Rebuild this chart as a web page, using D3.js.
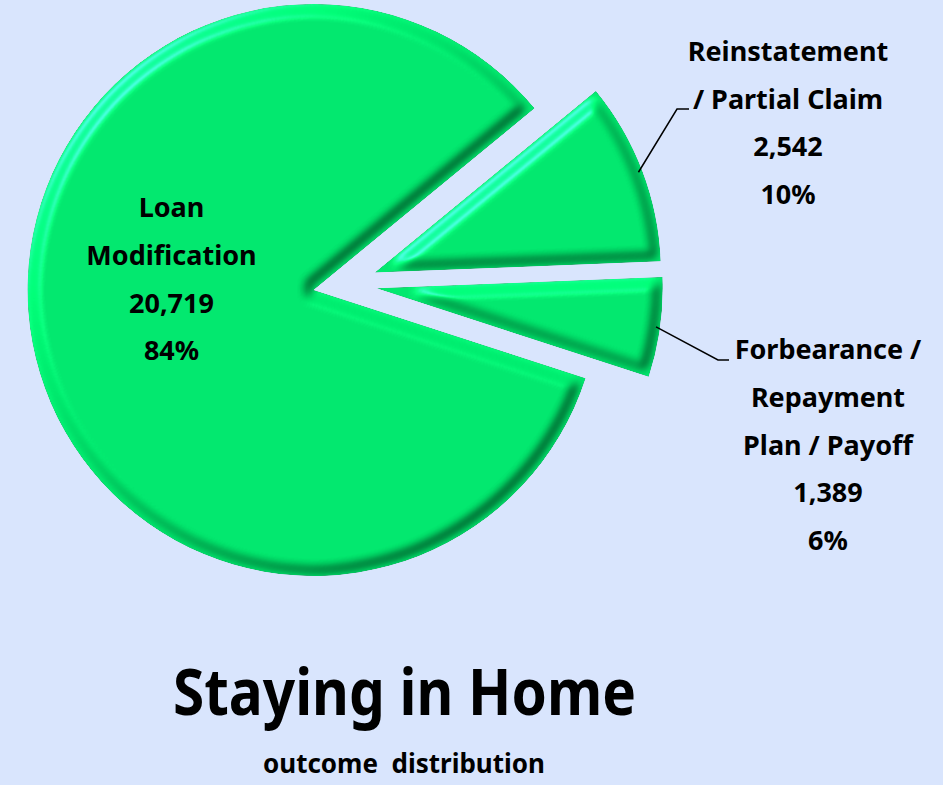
<!DOCTYPE html>
<html>
<head>
<meta charset="utf-8">
<script src="https://cdn.jsdelivr.net/npm/d3@7"></script>
<style>
    body { margin:0; background:#d9e5fd; }
    svg { display:block; }
    text { font-family:"Noto Sans", "Open Sans", sans-serif; font-weight:bold; fill:#000; }
</style>
</head>
<body>
<div id="chart"></div>
<script>

//******************************************************************************
//**  Data
//******************************************************************************
var categories = ["Loan Modification", "Reinstatement / Partial Claim", "Forbearance / Repayment Plan / Payoff"];
var counts = [20719, 2542, 1389];
var percents = ["84%", "10%", "6%"];
var labelLines = [
    ["Loan", "Modification"],
    ["Reinstatement", "/ Partial Claim"],
    ["Forbearance /", "Repayment", "Plan / Payoff"]
];
var title = "Staying in Home";
var subtitle = "outcome  distribution";


//******************************************************************************
//**  Chart
//******************************************************************************
var width = 943, height = 785;
var cx = 345, cy = 284, radius = 286, explode = 32;
var firstSliceAngle = 108; //degrees, like excel

var svg = d3.select("#chart").append("svg")
    .attr("width", width)
    .attr("height", height);

svg.append("rect")
    .attr("width", width)
    .attr("height", height)
    .attr("fill", "#d9e5fd");


//**************************************************************************
//** bevel filter
//**************************************************************************
var defs = svg.append("defs");
var filter = defs.append("filter")
    .attr("id", "bevel")
    .attr("color-interpolation-filters", "sRGB")
    .attr("x", "-5%").attr("y", "-5%")
    .attr("width", "110%").attr("height", "110%");

filter.append("feMorphology")
    .attr("in", "SourceAlpha")
    .attr("operator", "erode")
    .attr("radius", 6)
    .attr("result", "eroded");

filter.append("feGaussianBlur")
    .attr("in", "eroded")
    .attr("stdDeviation", 4.5)
    .attr("result", "blur");

filter.append("feDiffuseLighting")
    .attr("in", "blur")
    .attr("surfaceScale", 4)
    .attr("diffuseConstant", 1)
    .attr("lighting-color", "#ffffff")
    .attr("result", "diffuse")
  .append("feDistantLight")
    .attr("azimuth", 225)
    .attr("elevation", 45);

//keep some of the base colour so the dark side stays green
filter.append("feComposite")
    .attr("in", "SourceGraphic")
    .attr("in2", "diffuse")
    .attr("operator", "arithmetic")
    .attr("k1", 0.75).attr("k2", 0.47).attr("k3", 0).attr("k4", 0)
    .attr("result", "shaded");

filter.append("feSpecularLighting")
    .attr("in", "blur")
    .attr("surfaceScale", 4)
    .attr("specularConstant", 0.4)
    .attr("specularExponent", 40)
    .attr("lighting-color", "#b0fff0")
    .attr("result", "spec")
  .append("feDistantLight")
    .attr("azimuth", 225)
    .attr("elevation", 45);

filter.append("feComposite")
    .attr("in", "shaded")
    .attr("in2", "spec")
    .attr("operator", "arithmetic")
    .attr("k1", 0).attr("k2", 1).attr("k3", 1).attr("k4", 0)
    .attr("result", "lit");

filter.append("feComposite")
    .attr("in", "lit")
    .attr("in2", "SourceAlpha")
    .attr("operator", "in");


//**************************************************************************
//** pie
//**************************************************************************
var data = categories.map(function(c, i){
    return { name: c, count: counts[i], pct: percents[i], lines: labelLines[i] };
});

var start = firstSliceAngle * Math.PI / 180;
var pie = d3.pie()
    .sort(null)
    .value(function(d){ return d.count; })
    .startAngle(start)
    .endAngle(start + 2 * Math.PI);

var arc = d3.arc()
    .innerRadius(0)
    .outerRadius(radius);

var arcs = pie(data);

var offset = function(d, r){
    var a = (d.startAngle + d.endAngle) / 2;
    return [Math.sin(a) * r, -Math.cos(a) * r];
};

var pieArea = svg.append("g")
    .attr("transform", "translate(" + cx + "," + cy + ")");

pieArea.selectAll("path.slice")
    .data(arcs)
    .enter()
    .append("path")
    .attr("class", "slice")
    .attr("transform", function(d){
        var o = offset(d, explode);
        return "translate(" + o[0] + "," + o[1] + ")";
    })
    .attr("d", arc)
    .attr("fill", "#00e46b")
    .attr("filter", "url(#bevel)");


//**************************************************************************
//** labels
//**************************************************************************
var lineHeight = 47.8;
var labelPos = [
    { x: 171.5, y: 217 },
    { x: 788, y: 60.7, elbow: [677, 109], end: [689, 109] },
    { x: 828, y: 359, elbow: [718, 360], end: [729, 360] }
];

arcs.forEach(function(d, i){
    var p = labelPos[i];
    var lines = d.data.lines.concat([d3.format(",")(d.data.count), d.data.pct]);

    var label = svg.append("text")
        .attr("text-anchor", "middle")
        .style("font-size", "27px");

    lines.forEach(function(t, j){
        label.append("tspan")
            .attr("x", p.x)
            .attr("y", p.y + j * lineHeight)
            .text(t);
    });

    if (p.elbow){
        var o = offset(d, explode);
        var e = offset(d, radius - 4);
        var x0 = cx + o[0] + e[0], y0 = cy + o[1] + e[1];
        svg.append("polyline")
            .attr("points", [[x0, y0], p.elbow, p.end].join(" "))
            .attr("fill", "none")
            .attr("stroke", "#000")
            .attr("stroke-width", 1.5);
    }
});


//**************************************************************************
//** title
//**************************************************************************
svg.append("text")
    .attr("x", 404.5)
    .attr("y", 715)
    .attr("text-anchor", "middle")
    .attr("textLength", 463)
    .attr("lengthAdjust", "spacingAndGlyphs")
    .style("font-size", "64px")
    .text(title);

svg.append("text")
    .attr("x", 404)
    .attr("y", 773)
    .attr("text-anchor", "middle")
    .style("font-size", "26px")
    .style("white-space", "pre")
    .text(subtitle);

</script>
</body>
</html>
